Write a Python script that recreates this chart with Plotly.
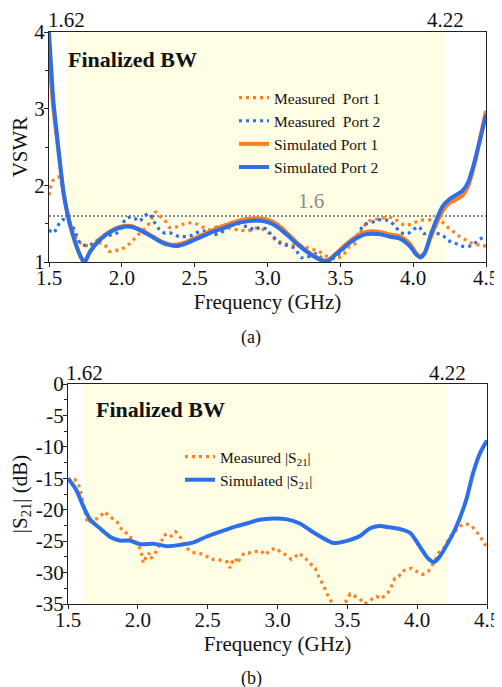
import plotly.graph_objects as go

FONT = "Liberation Serif"
ORANGE = "#FF7F1E"
BLUE = "#2C6FE8"
SHADE = "#FFFEE5"

# ---------------- (a) VSWR ----------------
sim_f = [1.50, 1.53, 1.555, 1.575, 1.60, 1.63, 1.66, 1.69, 1.72, 1.745, 1.78, 1.85, 1.92, 1.99, 2.06, 2.12,
         2.19, 2.27, 2.33, 2.38, 2.44, 2.50, 2.56, 2.62, 2.68, 2.74, 2.80, 2.86, 2.92, 2.98, 3.04, 3.10,
         3.16, 3.22, 3.28, 3.34, 3.39, 3.42, 3.47, 3.52, 3.57, 3.62, 3.67, 3.72, 3.78, 3.84, 3.90, 3.94,
         3.98, 4.02, 4.05, 4.08, 4.12, 4.16, 4.20, 4.25, 4.30, 4.34, 4.38, 4.42, 4.46, 4.50]
sim_p1 = [3.70, 3.00, 2.60, 2.28, 1.90, 1.60, 1.38, 1.20, 1.06, 1.00, 1.13, 1.30, 1.40, 1.46, 1.47, 1.43,
          1.36, 1.27, 1.23, 1.23, 1.26, 1.31, 1.36, 1.41, 1.46, 1.50, 1.54, 1.56, 1.57, 1.56, 1.52, 1.44,
          1.33, 1.22, 1.13, 1.06, 1.02, 1.03, 1.11, 1.20, 1.28, 1.35, 1.39, 1.40, 1.39, 1.36, 1.34, 1.30,
          1.23, 1.12, 1.07, 1.12, 1.32, 1.50, 1.66, 1.77, 1.82, 1.87, 2.00, 2.27, 2.62, 2.97]
sim_p2 = [4.00, 3.10, 2.65, 2.30, 1.90, 1.60, 1.38, 1.20, 1.06, 1.00, 1.13, 1.29, 1.39, 1.45, 1.46, 1.42,
          1.35, 1.26, 1.22, 1.21, 1.24, 1.29, 1.34, 1.39, 1.43, 1.47, 1.51, 1.53, 1.54, 1.53, 1.49, 1.41,
          1.31, 1.21, 1.12, 1.05, 1.01, 1.02, 1.10, 1.18, 1.26, 1.32, 1.36, 1.37, 1.36, 1.33, 1.31, 1.27,
          1.20, 1.10, 1.06, 1.12, 1.35, 1.55, 1.72, 1.82, 1.88, 1.93, 2.05, 2.30, 2.60, 2.92]

meas1_f = [1.50, 1.53, 1.565, 1.60, 1.62, 1.64, 1.66, 1.70, 1.74, 1.80, 1.84, 1.88, 1.91, 1.95, 1.99, 2.02,
           2.06, 2.09, 2.12, 2.16, 2.19, 2.23, 2.26, 2.30, 2.33, 2.38, 2.43, 2.47, 2.51, 2.56, 2.60, 2.65,
           2.70, 2.75, 2.81, 2.86, 2.91, 2.95, 3.00, 3.04, 3.08, 3.12, 3.16, 3.20, 3.25, 3.30, 3.35, 3.40,
           3.44, 3.48, 3.52, 3.55, 3.60, 3.64, 3.69, 3.73, 3.78, 3.85, 3.89, 3.94, 3.98, 4.03, 4.07, 4.11,
           4.16, 4.20, 4.24, 4.28, 4.32, 4.37, 4.41, 4.46, 4.50]
meas1_v = [1.87, 2.07, 2.11, 1.92, 1.72, 1.55, 1.42, 1.28, 1.22, 1.22, 1.25, 1.23, 1.14, 1.15, 1.16, 1.19,
           1.25, 1.31, 1.37, 1.44, 1.51, 1.65, 1.60, 1.53, 1.45, 1.46, 1.50, 1.51, 1.50, 1.45, 1.42, 1.46,
           1.47, 1.43, 1.42, 1.40, 1.44, 1.44, 1.39, 1.33, 1.27, 1.24, 1.22, 1.22, 1.20, 1.17, 1.14, 1.08,
           1.05, 1.05, 1.09, 1.18, 1.24, 1.39, 1.53, 1.55, 1.57, 1.58, 1.54, 1.48, 1.49, 1.53, 1.55, 1.55,
           1.55, 1.52, 1.45, 1.39, 1.33, 1.28, 1.24, 1.22, 1.21]

meas2_f = [1.50, 1.53, 1.56, 1.59, 1.62, 1.66, 1.68, 1.71, 1.74, 1.77, 1.80, 1.83, 1.88, 1.92, 1.95, 1.99,
           2.03, 2.08, 2.12, 2.15, 2.19, 2.22, 2.26, 2.29, 2.33, 2.38, 2.42, 2.47, 2.51, 2.56, 2.60, 2.63,
           2.66, 2.71, 2.74, 2.79, 2.84, 2.87, 2.91, 2.95, 3.00, 3.03, 3.07, 3.10, 3.15, 3.19, 3.23, 3.26,
           3.30, 3.34, 3.39, 3.45, 3.50, 3.53, 3.56, 3.60, 3.63, 3.66, 3.72, 3.76, 3.81, 3.84, 3.88, 3.91,
           3.96, 4.00, 4.04, 4.07, 4.11, 4.15, 4.20, 4.23, 4.26, 4.31, 4.35, 4.39, 4.42, 4.46, 4.50]
meas2_v = [1.42, 1.38, 1.47, 1.55, 1.54, 1.47, 1.39, 1.26, 1.22, 1.22, 1.24, 1.28, 1.33, 1.35, 1.36, 1.42,
           1.57, 1.58, 1.53, 1.59, 1.63, 1.53, 1.42, 1.38, 1.38, 1.34, 1.33, 1.34, 1.38, 1.40, 1.42, 1.36,
           1.37, 1.42, 1.51, 1.51, 1.47, 1.46, 1.42, 1.45, 1.42, 1.34, 1.27, 1.23, 1.21, 1.17, 1.06, 1.06,
           1.08, 1.11, 1.02, 1.05, 1.12, 1.19, 1.25, 1.29, 1.39, 1.48, 1.52, 1.55, 1.55, 1.53, 1.46, 1.39,
           1.37, 1.42, 1.46, 1.37, 1.39, 1.38, 1.35, 1.30, 1.26, 1.23, 1.20, 1.21, 1.24, 1.30, 1.33]

# ---------------- (b) |S21| ----------------
s21_sim_f = [1.50, 1.56, 1.61, 1.66, 1.73, 1.80, 1.87, 1.94, 2.02, 2.11, 2.21, 2.30, 2.40, 2.49, 2.59,
             2.68, 2.78, 2.87, 2.97, 3.06, 3.16, 3.25, 3.35, 3.40, 3.49, 3.59, 3.66, 3.73, 3.80, 3.88,
             3.95, 4.02, 4.08, 4.12, 4.16, 4.22, 4.28, 4.35, 4.40, 4.45, 4.50]
s21_sim_v = [-15.0, -16.9, -19.5, -21.6, -23.0, -24.3, -24.9, -24.9, -25.5, -25.4, -25.8, -25.6, -25.2,
             -24.3, -23.5, -22.8, -22.2, -21.6, -21.4, -21.5, -22.2, -23.5, -24.8, -25.3, -25.0, -24.2,
             -23.0, -22.6, -22.8, -23.1, -23.7, -25.9, -27.8, -28.3, -27.5, -25.3, -22.7, -18.5, -14.2,
             -11.0, -9.0]

s21_meas_f = [1.50, 1.52, 1.55, 1.575, 1.59, 1.60, 1.61, 1.62, 1.63, 1.64, 1.66, 1.71, 1.73, 1.76, 1.80,
              1.85, 1.88, 1.91, 1.93, 1.97, 1.99, 2.02, 2.03, 2.04, 2.06, 2.08, 2.09, 2.12, 2.14, 2.17,
              2.18, 2.22, 2.24, 2.27, 2.30, 2.32, 2.35, 2.39, 2.43, 2.48, 2.52, 2.57, 2.60, 2.64, 2.66,
              2.67, 2.70, 2.71, 2.73, 2.76, 2.79, 2.83, 2.88, 2.91, 2.95, 2.99, 3.03, 3.06, 3.10, 3.13,
              3.16, 3.18, 3.22, 3.25, 3.27, 3.30, 3.33, 3.35, 3.37, 3.40, 3.45, 3.49, 3.52, 3.55, 3.59,
              3.62, 3.66, 3.68, 3.71, 3.74, 3.77, 3.79, 3.82, 3.84, 3.87, 3.89, 3.93, 3.96, 4.01, 4.04,
              4.08, 4.10, 4.13, 4.15, 4.19, 4.21, 4.24, 4.27, 4.31, 4.34, 4.38, 4.41, 4.45, 4.48, 4.50]
s21_meas_v = [-15.6, -15.2, -15.2, -15.9, -17.1, -18.1, -19.2, -20.6, -21.6, -22.2, -21.8, -21.4, -21.1,
              -20.3, -21.1, -21.9, -23.0, -23.4, -24.3, -24.6, -25.4, -26.3, -27.4, -28.5, -27.4, -26.9,
              -27.8, -27.2, -26.1, -25.2, -24.1, -23.8, -24.2, -23.5, -24.2, -25.0, -26.1, -26.8, -26.9,
              -27.2, -27.9, -27.9, -28.1, -28.3, -29.3, -28.5, -27.7, -28.5, -27.9, -26.9, -26.9, -26.7,
              -26.5, -27.2, -26.4, -26.1, -26.9, -27.2, -27.9, -27.4, -26.9, -27.5, -28.1, -29.0, -29.3,
              -30.9, -32.0, -33.2, -34.1, -35.2, -35.6, -34.6, -33.4, -33.7, -34.2, -35.0, -34.6, -34.1,
              -33.8, -34.2, -33.5, -33.2, -32.0, -30.9, -30.6, -29.8, -29.5, -29.3, -30.0, -30.3, -29.8,
              -29.0, -28.0, -26.9, -26.1, -25.3, -24.2, -23.5, -22.6, -22.2, -22.4, -23.1, -24.2, -25.4,
              -25.8]

band_lo, band_hi = 1.62, 4.22
x_ticks = [1.5, 2.0, 2.5, 3.0, 3.5, 4.0, 4.5]
x_tick_text = ["1.5", "2.0", "2.5", "3.0", "3.5", "4.0", "4.5"]
vswr_ticks = [1, 2, 3, 4]
vswr_tick_text = ["1", "2", "3", "4"]
s21_ticks = [0, -5, -10, -15, -20, -25, -30, -35]
s21_tick_text = ["0", "-5", "-10", "-15", "-20", "-25", "-30", "-35"]
vswr_limit = 1.6

W, H = 502, 687
OFF = 8  # page body margin offset of the plot div

def fx(px):
    return (px - OFF) / W
def fy(py):
    return 1 - (py - OFF) / H
def px_x(a, b):
    return [fx(a), fx(b)]
def px_y(top, bottom):
    return [fy(bottom), fy(top)]

fig = go.Figure()

dot_w = 3.2
DOTS = "3px,4px"
fig.add_trace(go.Scatter(x=meas1_f, y=meas1_v, mode="lines", name="Measured\u00a0 Port 1",
                         line=dict(color=ORANGE, width=dot_w, dash=DOTS, shape="spline"),
                         xaxis="x", yaxis="y", legend="legend"))
fig.add_trace(go.Scatter(x=meas2_f, y=meas2_v, mode="lines", name="Measured\u00a0 Port 2",
                         line=dict(color=BLUE, width=dot_w, dash=DOTS, shape="spline"),
                         xaxis="x", yaxis="y", legend="legend"))
fig.add_trace(go.Scatter(x=sim_f, y=sim_p1, mode="lines", name="Simulated Port 1",
                         line=dict(color=ORANGE, width=4, shape="spline", smoothing=0.6),
                         xaxis="x", yaxis="y", legend="legend"))
fig.add_trace(go.Scatter(x=sim_f, y=sim_p2, mode="lines", name="Simulated Port 2",
                         line=dict(color=BLUE, width=4, shape="spline", smoothing=0.6),
                         xaxis="x", yaxis="y", legend="legend"))

fig.add_trace(go.Scatter(x=s21_meas_f, y=s21_meas_v, mode="lines", name="Measured |S<sub>21</sub>|",
                         line=dict(color=ORANGE, width=dot_w, dash=DOTS),
                         xaxis="x2", yaxis="y2", legend="legend2"))
fig.add_trace(go.Scatter(x=s21_sim_f, y=s21_sim_v, mode="lines", name="Simulated |S<sub>21</sub>|",
                         line=dict(color=BLUE, width=4, shape="spline", smoothing=0.8),
                         xaxis="x2", yaxis="y2", legend="legend2"))

TICK_FS = 21
axis_common = dict(showline=True, linecolor="#222", linewidth=1.3, mirror=True, showgrid=False,
                   zeroline=False, ticks="outside", ticklen=4, tickcolor="#222", automargin=False,
                   tickfont=dict(family=FONT, size=TICK_FS, color="#111"))

fig.update_layout(
    width=W, height=H, margin=dict(l=0, r=0, t=0, b=0, pad=0, autoexpand=False),
    paper_bgcolor="white", plot_bgcolor="white",
    font=dict(family=FONT, color="#111"),
    xaxis=dict(domain=px_x(49, 486), range=[1.5, 4.5], tickvals=x_ticks, ticktext=x_tick_text,
               ticklabelstandoff=-7,
               title=dict(text="Frequency (GHz)", font=dict(family=FONT, size=TICK_FS), standoff=0),
               anchor="y", **axis_common),
    yaxis=dict(domain=px_y(32, 262), range=[1, 4], tickvals=vswr_ticks, ticktext=vswr_tick_text,
               ticklabelstandoff=-5,
               minor=dict(dtick=0.5, ticks="outside", ticklen=3, tickcolor="#222"),
               title=dict(text="VSWR", font=dict(family=FONT, size=TICK_FS), standoff=5),
               anchor="x", **axis_common),
    xaxis2=dict(domain=px_x(68, 487), range=[1.5, 4.5], tickvals=x_ticks, ticktext=x_tick_text,
                ticklabelstandoff=-7,
                title=dict(text="Frequency (GHz)", font=dict(family=FONT, size=TICK_FS), standoff=0),
                anchor="y2", **axis_common),
    yaxis2=dict(domain=px_y(384, 604), range=[-35, 0], tickvals=s21_ticks, ticktext=s21_tick_text,
                ticklabelstandoff=-5,
                minor=dict(dtick=2.5, ticks="outside", ticklen=3, tickcolor="#222"),
                title=dict(text="|S<sub>21</sub>| (dB)", font=dict(family=FONT, size=TICK_FS), standoff=4),
                anchor="x2", **axis_common),
    legend=dict(x=fx(234), y=fy(81), xanchor="left", yanchor="top", bgcolor="rgba(0,0,0,0)",
                font=dict(family=FONT, size=15.5, color="#111"), tracegroupgap=0, itemwidth=30),
    legend2=dict(x=fx(180), y=fy(440), xanchor="left", yanchor="top", bgcolor="rgba(0,0,0,0)",
                 font=dict(family=FONT, size=15.5, color="#111"), tracegroupgap=0, itemwidth=30),
    showlegend=True,
)

shapes = []
for xr, yr in (("x", "y"), ("x2", "y2")):
    shapes.append(dict(type="rect", xref=xr, yref=yr + " domain", x0=band_lo, x1=band_hi, y0=0, y1=1,
                       fillcolor=SHADE, line=dict(width=0), layer="below"))
shapes.append(dict(type="line", xref="x domain", yref="y", x0=0, x1=1, y0=vswr_limit, y1=vswr_limit,
                   line=dict(color="#8C8C8C", width=2, dash="2px,2px"), layer="below"))
fig.update_layout(shapes=shapes)

ann = []
for xr, yr, ys in (("x", "y", 12), ("x2", "y2", 11)):
    for v in (band_lo, band_hi):
        ann.append(dict(x=v, xref=xr, y=1, yref=yr + " domain", text=f"{v:.2f}", showarrow=False,
                        yanchor="middle", yshift=ys, font=dict(family=FONT, size=TICK_FS, color="#111")))
ann.append(dict(x=fx(66), y=fy(60), xref="paper", yref="paper", text="<b>Finalized BW</b>",
                showarrow=False, xanchor="left", yanchor="middle",
                font=dict(family=FONT, size=22, color="#111")))
ann.append(dict(x=fx(94), y=fy(409), xref="paper", yref="paper", text="<b>Finalized BW</b>",
                showarrow=False, xanchor="left", yanchor="middle",
                font=dict(family=FONT, size=22, color="#111")))
ann.append(dict(x=3.3, xref="x", y=vswr_limit, yref="y", text="1.6", showarrow=False,
                yanchor="bottom", yshift=1, font=dict(family=FONT, size=21, color="#8C8C8C")))
ann.append(dict(x=fx(251), y=fy(337), xref="paper", yref="paper", text="(a)", showarrow=False,
                xanchor="center", yanchor="middle", font=dict(family=FONT, size=18, color="#111")))
ann.append(dict(x=fx(251), y=fy(678), xref="paper", yref="paper", text="(b)", showarrow=False,
                xanchor="center", yanchor="middle", font=dict(family=FONT, size=18, color="#111")))
fig.update_layout(annotations=ann)

fig.write_html("out.html")
